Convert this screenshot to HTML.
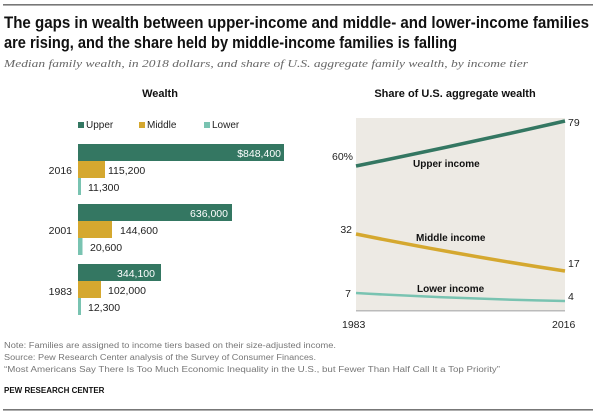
<!DOCTYPE html>
<html><head><meta charset="utf-8"><style>
body{margin:0;background:#fff}
svg{display:block;font-family:"Liberation Sans",sans-serif}
</style></head><body>
<svg width="600" height="417" viewBox="0 0 600 417">
<rect x="3" y="4" width="590" height="1.6" fill="#777"/>
<text x="4" y="28" font-size="16.5" font-weight="bold" fill="#111" textLength="585" lengthAdjust="spacingAndGlyphs">The gaps in wealth between upper-income and middle- and lower-income families</text>
<text x="4" y="48" font-size="16.5" font-weight="bold" fill="#111" textLength="453" lengthAdjust="spacingAndGlyphs">are rising, and the share held by middle-income families is falling</text>
<text x="4" y="67" font-size="11" font-style="italic" fill="#666" font-family="Liberation Serif,serif" textLength="524" lengthAdjust="spacingAndGlyphs">Median family wealth, in 2018 dollars, and share of U.S. aggregate family wealth, by income tier</text>

<text x="160" y="97" font-size="11" font-weight="bold" text-anchor="middle" fill="#111">Wealth</text>
<rect x="78" y="122" width="6" height="6" fill="#347762"/><text x="86" y="128" font-size="10" fill="#222">Upper</text>
<rect x="139" y="122" width="6" height="6" fill="#d5a82f"/><text x="147" y="128" font-size="10" fill="#222">Middle</text>
<rect x="204" y="122" width="6" height="6" fill="#79c3b1"/><text x="212" y="128" font-size="10" fill="#222">Lower</text>

<g font-size="10.5" fill="#222">
<rect x="78" y="144" width="206" height="17" fill="#347762"/>
<rect x="78" y="161" width="27" height="17" fill="#d5a82f"/>
<rect x="78" y="178" width="3" height="17" fill="#79c3b1"/>
<text x="281" y="157" fill="#fff" text-anchor="end">$848,400</text>
<text x="108" y="174">115,200</text>
<text x="88" y="191">11,300</text>
<text x="72" y="174" text-anchor="end">2016</text>

<rect x="78" y="204" width="154" height="17" fill="#347762"/>
<rect x="78" y="221" width="34" height="17" fill="#d5a82f"/>
<rect x="78" y="238" width="4.5" height="17" fill="#79c3b1"/>
<text x="228" y="217" fill="#fff" text-anchor="end">636,000</text>
<text x="120" y="234">144,600</text>
<text x="90" y="251">20,600</text>
<text x="72" y="234" text-anchor="end">2001</text>

<rect x="78" y="264" width="83" height="17" fill="#347762"/>
<rect x="78" y="281" width="23" height="17" fill="#d5a82f"/>
<rect x="78" y="298" width="3" height="17" fill="#79c3b1"/>
<text x="155" y="277" fill="#fff" text-anchor="end">344,100</text>
<text x="108" y="294">102,000</text>
<text x="88" y="311">12,300</text>
<text x="72" y="295" text-anchor="end">1983</text>
</g>

<text x="455" y="97" font-size="11" font-weight="bold" text-anchor="middle" fill="#111">Share of U.S. aggregate wealth</text>
<rect x="356" y="118" width="209" height="193" fill="#edeae4"/>
<rect x="356" y="310" width="209" height="1.5" fill="#bbb"/>
<path d="M356 166 Q460 145 565 121" stroke="#347762" stroke-width="3.5" fill="none"/>
<path d="M356 234 Q460 255 565 271" stroke="#d5a82f" stroke-width="3.5" fill="none"/>
<path d="M356 293 Q460 299 565 301" stroke="#79c3b1" stroke-width="2.5" fill="none"/>
<g font-size="10.5" fill="#222">
<text x="353" y="160" text-anchor="end">60%</text>
<text x="568" y="126">79</text>
<text x="352" y="233" text-anchor="end">32</text>
<text x="568" y="267">17</text>
<text x="351" y="297" text-anchor="end">7</text>
<text x="568" y="300">4</text>
<text x="342" y="328">1983</text>
<text x="552" y="328">2016</text>
</g>
<g font-size="10" font-weight="bold" fill="#111">
<text x="413" y="167">Upper income</text>
<text x="416" y="241">Middle income</text>
<text x="417" y="292">Lower income</text>
</g>

<g font-size="8" fill="#777">
<text x="4" y="348" textLength="332" lengthAdjust="spacingAndGlyphs">Note: Families are assigned to income tiers based on their size-adjusted income.</text>
<text x="4" y="360" textLength="312" lengthAdjust="spacingAndGlyphs">Source: Pew Research Center analysis of the Survey of Consumer Finances.</text>
<text x="4" y="372" textLength="496" lengthAdjust="spacingAndGlyphs">“Most Americans Say There Is Too Much Economic Inequality in the U.S., but Fewer Than Half Call It a Top Priority”</text>
</g>
<text x="4" y="393" font-size="8" font-weight="bold" fill="#111">PEW RESEARCH CENTER</text>
<rect x="3" y="409" width="590" height="1.6" fill="#777"/>
</svg>
</body></html>
